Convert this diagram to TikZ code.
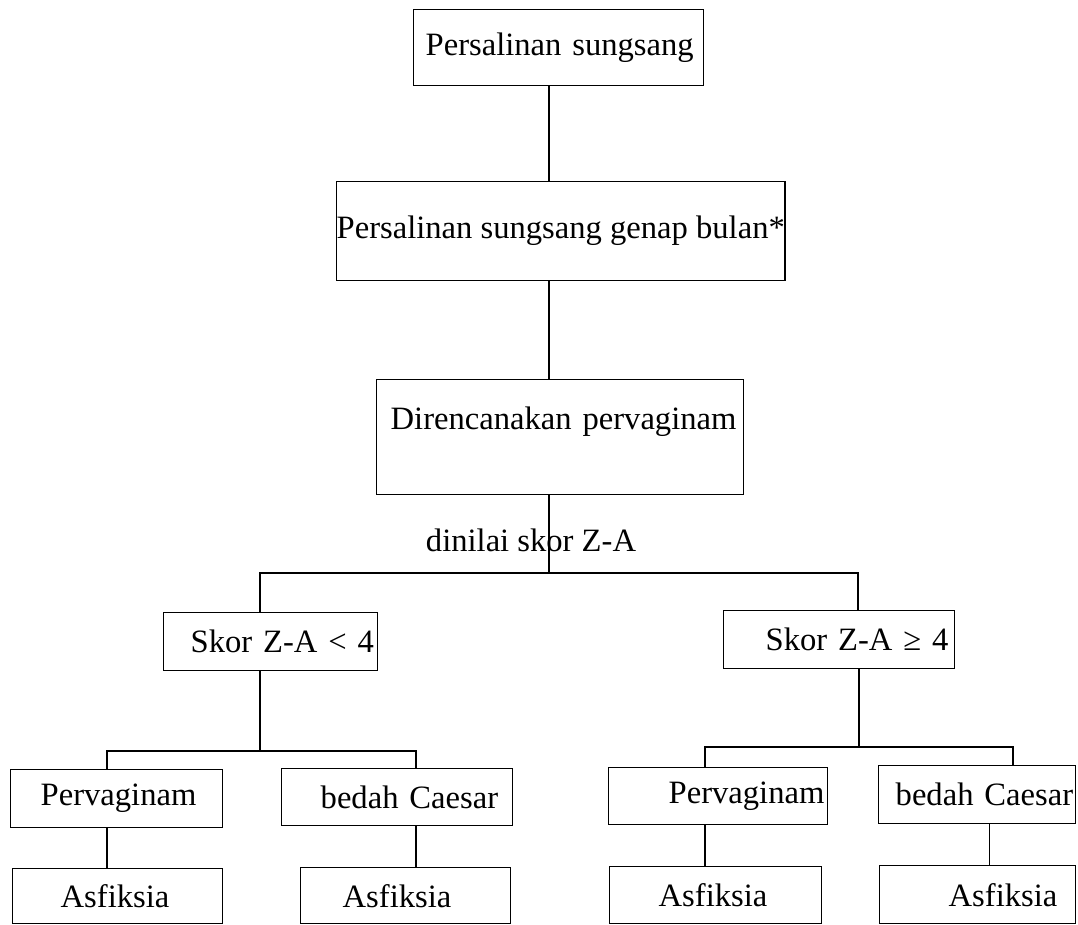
\documentclass[tikz,border=0pt]{standalone}
\usepackage{fontspec}
\setmainfont{Liberation Serif}
\usetikzlibrary{positioning}

\begin{document}
\begin{tikzpicture}[x=0.5pt, y=-0.5pt, line width=0.7pt,
    font=\fontsize{16.3}{19.5}\selectfont,
    kotak/.style={draw, anchor=north west, inner xsep=0pt, inner ysep=0pt,
        text width=#1, align=left}]
\useasboundingbox (0,0) rectangle (1078,925);

% kotak utama
\node[kotak=145pt, minimum height=38pt] (atas) at (413,9) {\hspace*{6pt}Persalinan sungsang};
\node[draw, anchor=north west, inner sep=0pt, minimum width=222pt, minimum height=49.5pt] (genap) at (336,181) {Persalinan sungsang genap bulan*};
\node[kotak=183.5pt, minimum height=57.5pt] (rencana) at (376,379) {\hspace*{7pt}Direncanakan pervaginam\\ \mbox{}};
\node (nilai) at (531,540) {dinilai skor Z-A};

% skor
\node[kotak=107pt, minimum height=29pt] (skorA) at (163,612) {\hspace*{13.5pt}Skor Z-A < 4};
\node[kotak=115.5pt, minimum height=29pt] (skorB) at (723,610) {\hspace*{21pt}Skor Z-A ≥ 4};

% cara persalinan
\node[kotak=106pt, minimum height=29pt] (pvA) at (10,769) {\hspace*{15pt}Pervaginam};
\node[kotak=115.5pt, minimum height=28.5pt] (scA) at (281,768) {\hspace*{19.5pt}bedah Caesar};
\node[kotak=109.5pt, minimum height=28.5pt] (pvB) at (608,767) {\hspace*{30pt}Pervaginam};
\node[kotak=98.5pt, minimum height=29pt] (scB) at (878,765) {\hspace*{8.5pt}bedah Caesar};

% asfiksia
\node[kotak=105pt, minimum height=27.5pt] (asA) at (12,868) {\hspace*{24pt}Asfiksia};
\node[kotak=105pt, minimum height=28pt] (asB) at (300,867) {\hspace*{21pt}Asfiksia};
\node[kotak=106pt, minimum height=28.5pt] (asC) at (609,866) {\hspace*{24.5pt}Asfiksia};
\node[kotak=98pt, minimum height=29pt] (asD) at (879,865) {\hspace*{34.5pt}Asfiksia};

% titik cabang
\coordinate (c1) at (549,573);
\coordinate (c1a) at (260,573);
\coordinate (c1b) at (858,573);
\coordinate (c2) at (260,751);
\coordinate (c2a) at (107,751);
\coordinate (c2b) at (416,751);
\coordinate (c3) at (859,747);
\coordinate (c3a) at (705,747);
\coordinate (c3b) at (1013,747);

% garis
\draw (c1 |- atas.south) -- (c1 |- genap.north);
\draw (c1 |- genap.south) -- (c1 |- rencana.north);
\draw (c1 |- rencana.south) -- (c1);
\draw (c1a |- skorA.north) -- (c1a) -- (c1b) -- (c1b |- skorB.north);
\draw (c2 |- skorA.south) -- (c2);
\draw (c2a |- pvA.north) -- (c2a) -- (c2b) -- (c2b |- scA.north);
\draw (c3 |- skorB.south) -- (c3);
\draw (c3a |- pvB.north) -- (c3a) -- (c3b) -- (c3b |- scB.north);
\draw (c2a |- pvA.south) -- (c2a |- asA.north);
\draw (c2b |- scA.south) -- (c2b |- asB.north);
\draw (c3a |- pvB.south) -- (c3a |- asC.north);
\draw ([xshift=6.25pt]scB.south) -- ([xshift=6.25pt]scB.south |- asD.north);
\end{tikzpicture}
\end{document}
